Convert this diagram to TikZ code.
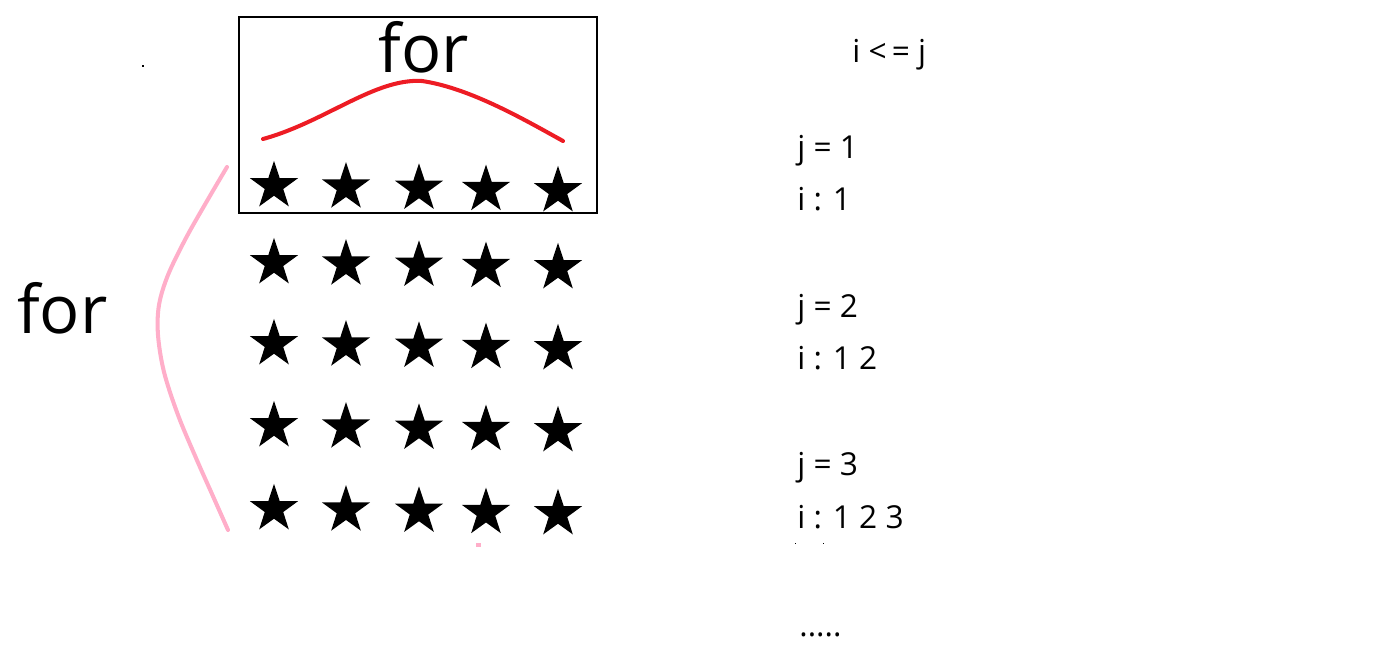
\documentclass[tikz,border=0pt]{standalone}
\usepackage{fontspec}
\setmainfont{Open Sans}
\usepackage{tikz}
\usetikzlibrary{shapes.geometric}
\definecolor{paintred}{RGB}{237,28,36}
\definecolor{paintpink}{RGB}{255,174,201}

\tikzset{
  starmark/.style={star, star points=5, star point ratio=2.6, fill=black, inner sep=0pt, minimum size=1.01cm},
  bigword/.style={font=\fontsize{38}{44}\selectfont, inner sep=0pt},
  steptext/.style={font=\fontsize{18}{22}\selectfont, anchor=base west, inner sep=0pt},
  bendline/.style={line width=2.3pt, line cap=round}
}

\begin{document}
\begin{tikzpicture}[x=0.02cm, y=-0.02cm]
    \useasboundingbox (0,0) rectangle (1396,666);

    \foreach \r/\yy in {1/186,2/263,3/344,4/426,5/509}
        \foreach \c/\xx in {1/274,2/346,3/419,4/486,5/558}
            \node[starmark] (s\r\c) at (\xx, {\yy+(\c-1)*1.25}) {};

    \draw[line width=0.6pt] (239,17) rectangle (597,213);
    \node[bigword, anchor=base] (colfor) at (424,72) {for};
    \draw[bendline, paintred] (263,139) .. controls (325,122) and (375,78) .. (422,81)
        .. controls (470,88) and (525,120) .. (563,141);

    \node[bigword, anchor=base west] (rowfor) at (17,333) {for};
    \draw[bendline, paintpink] plot[smooth, tension=0.55] coordinates {(227,167) (207,201) (186,238)
        (168,275) (159,305) (158,335) (164,372) (178,415) (196,458) (212,494) (228,530)};

    \node[steptext] (cond) at (852,62) {i <\kern3pt= j};
    \node[steptext] (j1) at (797,158) {j = 1};
    \node[steptext] (i1) at (797,210) {i : 1};
    \node[steptext] (j2) at (797,317) {j = 2};
    \node[steptext] (i2) at (797,369) {i : 1 2};
    \node[steptext] (j3) at (797,475) {j = 3};
    \node[steptext] (i3) at (797,528) {i : 1 2 3};
    \node[steptext] (more) at (799,636) {.....};

    \fill (142,65) rectangle (144,67);
    \fill[paintpink] (476,543) rectangle (481,547);
    \fill (795,543) rectangle (796,544);
    \fill (823,543) rectangle (824,544);
\end{tikzpicture}
\end{document}
